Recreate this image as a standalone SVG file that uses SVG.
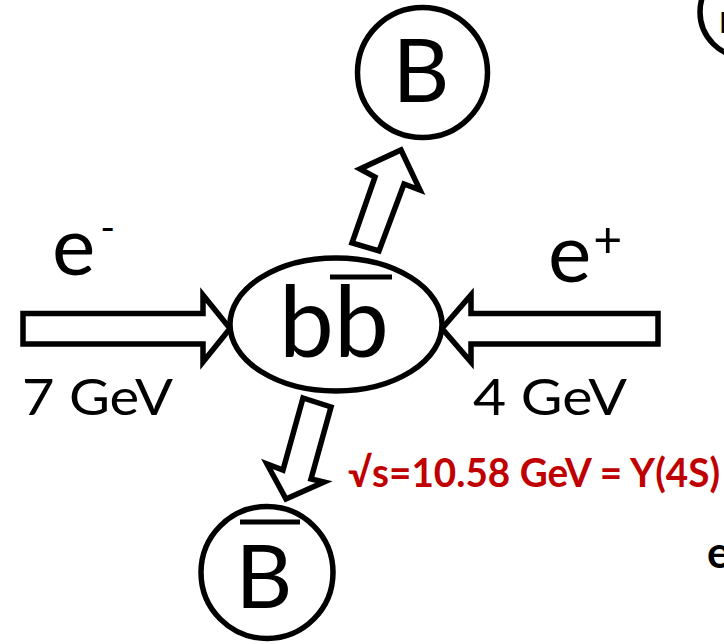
<svg xmlns="http://www.w3.org/2000/svg" width="724" height="644" viewBox="0 0 724 644">
<style>
.shape{fill:#fff;stroke:#000;stroke-width:5.5;stroke-linejoin:miter}
.bar{stroke:#000;stroke-width:5}
.t{font-family:Lato,"Open Sans","Liberation Sans",sans-serif;fill:#000}
.red{font-family:Lato,"Open Sans","Liberation Sans",sans-serif;font-weight:bold;fill:#C00000}
</style>
<rect width="724" height="644" fill="#fff"/>
<g id="connectors">
<polygon class="shape" points="23,313.5 203,313.5 203,295 230,328.5 203,362 203,344 23,344"/>
<polygon class="shape" points="658,313.5 471,313.5 471,295 442,328.5 471,362 471,344 658,344"/>
<polygon class="shape" points="401,150 420,190 404,184 379,251 352,243 375,177 360,169"/>
<polygon class="shape" points="303,398 331,407 311,479 324,482 286,499 267,464 283,470"/>
</g>
<g id="node-bb">
<ellipse class="shape" cx="336" cy="324.5" rx="106" ry="66.5"/>
<text class="t" x="334" y="357" font-size="98" text-anchor="middle">bb</text>
<line class="bar" x1="330" y1="277" x2="392" y2="277"/>
</g>
<g id="node-B">
<circle class="shape" cx="422.5" cy="72.5" r="65"/>
<text class="t" x="421" y="102" font-size="88" text-anchor="middle">B</text>
</g>
<g id="node-Bbar">
<circle class="shape" cx="267" cy="572.5" r="66"/>
<text class="t" x="264" y="608" font-size="88" text-anchor="middle">B</text>
<line class="bar" x1="240" y1="522" x2="300" y2="522"/>
</g>
<g id="label-eminus">
<text class="t" x="52" y="275" font-size="82">e<tspan font-size="40" dx="5" dy="-33">-</tspan></text>
<text class="t" x="22" y="415" font-size="51" textLength="151" lengthAdjust="spacingAndGlyphs">7 GeV</text>
</g>
<g id="label-eplus">
<text class="t" x="548" y="282" font-size="82">e<tspan font-size="50" dx="2" dy="-25">+</tspan></text>
<text class="t" x="473" y="415" font-size="51" textLength="154" lengthAdjust="spacingAndGlyphs">4 GeV</text>
</g>
<text class="red" x="348" y="487" font-size="40" textLength="372" lengthAdjust="spacingAndGlyphs">√s=10.58 GeV = Y(4S)</text>
<g id="node-partial">
<circle class="shape" cx="745" cy="12" r="45"/>
<text class="t" x="719" y="33" font-size="28">B</text>
</g>
<text class="t" x="707" y="568" font-size="44" font-weight="bold">e</text>
</svg>
